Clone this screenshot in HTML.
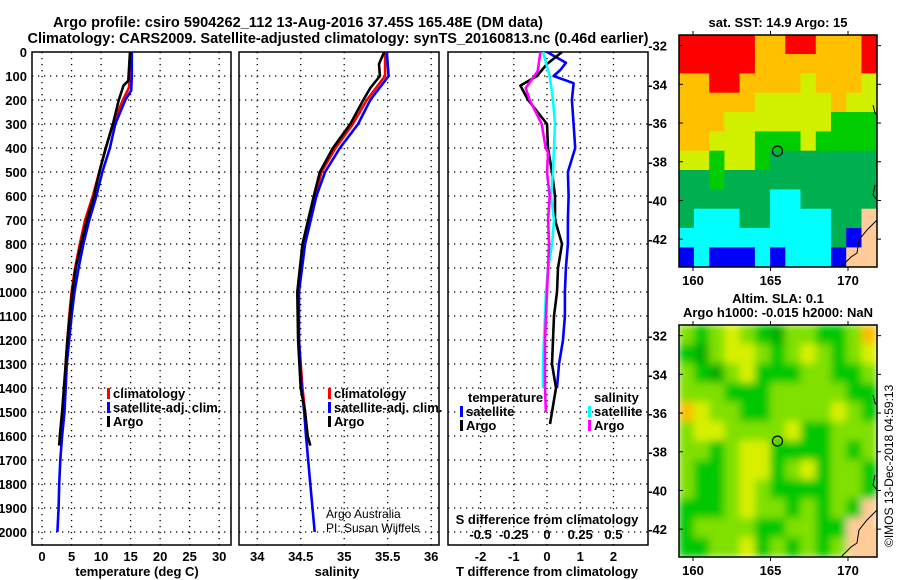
<!DOCTYPE html>
<html><head><meta charset="utf-8">
<style>
html,body{margin:0;padding:0;background:#fff;}
svg{display:block;font-family:"Liberation Sans",sans-serif;}
.b{font-weight:bold;font-size:13px;fill:#000;}
.t{font-weight:bold;font-size:14.5px;fill:#000;}
</style></head>
<body>
<svg id="fig" width="900" height="580" viewBox="0 0 900 580" xmlns="http://www.w3.org/2000/svg">
<text class="t" x="298" y="27" text-anchor="middle" textLength="490">Argo profile: csiro 5904262_112 13-Aug-2016 37.45S 165.48E (DM data)</text>
<text class="t" x="338" y="43" text-anchor="middle" textLength="621">Climatology: CARS2009. Satellite-adjusted climatology: synTS_20160813.nc (0.46d earlier)</text>
<g id="panels"></g>
<g id="maps"></g>
</svg>
<script>
// ---- profile data (depth in m) ----
const tClimDepth = [0,100,150,200,300,400,500,600,700,800,900,1000,1100,1200,1300,1400,1500];
const tClim      = [15,15,14.7,13.7,12.0,10.8,9.7,8.6,7.3,6.4,5.6,5.0,4.6,4.3,4.0,3.8,3.6];
const tSatDepth  = [0,100,160,200,300,400,500,600,700,800,900,1000,1100,1200,1300,1400,1500,1600,1700,1800,1900,2000];
const tSat       = [15.2,15.2,15.1,14.1,12.4,11.5,10.2,9.2,8.0,7.0,6.2,5.5,5.0,4.6,4.2,4.0,3.8,3.4,3.1,2.9,2.8,2.6];
const tArgoDepth = [0,120,140,200,300,400,500,600,700,800,900,1000,1100,1200,1300,1400,1500,1600,1640];
const tArgo      = [14.9,14.6,13.8,13.0,12.0,10.8,9.7,8.8,7.6,6.6,5.7,5.1,4.7,4.3,4.0,3.7,3.4,3.0,2.9];

const sClimDepth = [0,100,200,300,400,500,600,800,1000,1200,1400,1500];
const sClim      = [35.47,35.47,35.26,35.10,34.90,34.74,34.66,34.54,34.47,34.48,34.52,34.55];
const sSatDepth  = [0,100,200,300,400,500,600,800,1000,1200,1400,1500,1600,1800,2000];
const sSat       = [35.49,35.51,35.30,35.16,34.95,34.78,34.68,34.55,34.48,34.48,34.51,34.54,34.56,34.61,34.66];
const sArgoDepth = [0,50,100,150,200,300,400,500,600,800,1000,1200,1400,1500,1600,1640];
const sArgo      = [35.46,35.40,35.41,35.30,35.22,35.07,34.87,34.72,34.65,34.52,34.46,34.47,34.50,34.55,34.58,34.61];

const dTSatDepth = [0,45,75,100,130,200,300,400,500,600,700,800,900,1000,1100,1200,1300,1400];
const dTSat      = [0,0.57,0.4,0.2,0.8,0.75,0.8,0.85,0.63,0.65,0.63,0.63,0.57,0.54,0.54,0.48,0.36,0.3];
const dTArgoDepth= [0,50,100,140,200,300,400,500,600,700,800,900,1000,1100,1200,1300,1400,1500,1550];
const dTArgo     = [0.45,0,-0.3,-0.8,-0.57,0,0.03,0.15,0.24,0.24,0.45,0.33,0.3,0.21,0.18,0.15,0.27,0.15,0.09];
const dSSatDepth = [0,100,200,300,400,500,600,700,800,900,1000,1100,1200,1300,1400];
const dSSat      = [-0.03,0.02,0.045,0.06,0.053,0.045,0.03,0.053,0.038,0.008,-0.008,-0.015,-0.023,-0.03,-0.03];
const dSArgoDepth= [0,80,150,200,300,400,420,500,600,700,800,900,1000,1200,1400,1500];
const dSArgo     = [-0.05,-0.07,-0.16,-0.13,-0.04,-0.01,0.008,0,0.02,0.008,0.015,0.008,0,-0.015,-0.015,-0.008];

const depthTicks = [0,100,200,300,400,500,600,700,800,900,1000,1100,1200,1300,1400,1500,1600,1700,1800,1900,2000];
const tTicks = [0,5,10,15,20,25,30];
const sTicks = [34,34.5,35,35.5,36];
const sTickLabels = ["34","34.5","35","35.5","36"];
const dTTicks = [-2,-1,0,1,2];
const dSTicks = [-0.5,-0.25,0,0.25,0.5];
const dSTickLabels = ["-0.5","-0.25","0","0.25","0.5"];

// ---- map data ----
const sstPalette = {R:"#ff0000",O:"#ffc000",Y:"#d0f000",G:"#00cc00",D:"#00b050",C:"#00ffff",B:"#0000ff",S:"#ffcc99"};
const sstRows = [
 "RRRRROORROOOR",
 "RRRRROOOOOOOR",
 "OORROOOOYOOOY",
 "OOOOOYYYYYOYY",
 "OOOYYYYYYYGGG",
 "OOYYYGGGYGGGG",
 "YYGYYGDDDDDDD",
 "DDGDDDDDDDDDD",
 "DDDDDDCCDDDDD",
 "DCCCDDCCCCDDS",
 "CCCCCCCCCCDBS",
 "BCBBBCBCCCBSS"];
const slaPalette = {L:"#80e000",G:"#00c800",D:"#00b000",Y:"#d8f000",O:"#f8c000",S:"#ffcc99"};
const slaRows = [
 "LGLYLGDLLGGLO",
 "GDLYYLGLYLGLY",
 "LGDLYGGGLLGGL",
 "LLLGGGLLLLLGG",
 "OYLLGGLLLLYLG",
 "LYYLLLLYGGLLL",
 "LLGLYYGGGGLGL",
 "LGGLYYGLYGLLG",
 "LGGLYLGGGGLLG",
 "GGGLYLLGLGLGS",
 "GLLLLGGLLGGSS",
 "GGLLYGLGLGLSS"];
const latTicks = [-32,-34,-36,-38,-40,-42];
const lonTicks = [160,165,170];
const argoLon = 165.45, argoLat = -37.45;

const NS = "http://www.w3.org/2000/svg";
function mk(tag, attrs, parent){const e=document.createElementNS(NS,tag);for(const k in attrs)e.setAttribute(k,attrs[k]);parent.appendChild(e);return e;}

const yTop=52, pxPerM=0.24;
const yD = d => yTop + d*pxPerM;
const panelBottom = 545;

const panels = document.getElementById('panels');
const P = [
 {x0:32,x1:231,v0:-1.7,v1:32.0,name:'temperature-panel'},
 {x0:239,x1:439,v0:33.79,v1:36.09,name:'salinity-panel'},
 {x0:448,x1:648,v0:-2.98,v1:3.04,name:'difference-panel'}
];
P.forEach(p=>{p.sx=v=>p.x0+(v-p.v0)/(p.v1-p.v0)*(p.x1-p.x0);});
const sx3s = v => P[2].sx(v*4);

function grid(p, xs, g){
  depthTicks.slice(1).forEach(d=>{
    const l=mk('line',{x1:p.x0,x2:p.x1,y1:yD(d),y2:yD(d),stroke:'#000','stroke-width':1.3,'stroke-dasharray':'1.3 4.7'},g);
    
    
  });
  xs.forEach(v=>{
    const l=mk('line',{x1:p.sx(v),x2:p.sx(v),y1:yTop,y2:panelBottom,stroke:'#000','stroke-width':1.3,'stroke-dasharray':'1.3 4.7'},g);
    
    
  });
}
function line(xsFn, vals, depths, color, g, name){
  const pts = vals.map((v,i)=>xsFn(v).toFixed(1)+','+yD(depths[i]).toFixed(1)).join(' ');
  const pl = mk('polyline',{points:pts,fill:'none',stroke:color,'stroke-width':2.6,'stroke-linejoin':'round'},g);
  
  
}
function txt(s,x,y,attrs,g,name){
  const t=mk('text',Object.assign({x:x,y:y,class:'b'},attrs||{}),g);t.textContent=s;
  
  
  return t;
}
function legendEntry(x,y,color,label,g){
  const m=mk('rect',{x:x,y:y-10,width:3,height:11,fill:color},g);
  
  
  txt(label,x+6,y,{},g,'legend-entry');
}

P.forEach((p,i)=>{
  const g=mk('g',{},panels);
  
  
  if(i==0){grid(p,tTicks,g);}
  else if(i==1){grid(p,sTicks,g);}
  else {grid(p,dTTicks,g);}
  const fr=mk('rect',{x:p.x0,y:yTop,width:p.x1-p.x0,height:panelBottom-yTop,fill:'none',stroke:'#000','stroke-width':1.5},g);
  
  
  p.g=g;
});

const g1=P[0].g;
depthTicks.forEach(d=>txt(String(d),27,yD(d)+5,{'text-anchor':'end'},g1,'depth-tick-label'));
tTicks.forEach(v=>txt(String(v),P[0].sx(v),561,{'text-anchor':'middle'},g1,'temperature-tick-label'));
txt('temperature (deg C)',137,576,{'text-anchor':'middle'},g1,'x-axis-title');
line(P[0].sx,tClim,tClimDepth,'#ff0000',g1,'temperature-climatology-line');
line(P[0].sx,tSat,tSatDepth,'#0000ff',g1,'temperature-satellite-line');
line(P[0].sx,tArgo,tArgoDepth,'#000000',g1,'temperature-argo-line');
legendEntry(107,398,'#ff0000','climatology',g1);
legendEntry(107,412,'#0000ff','satellite-adj. clim.',g1);
legendEntry(107,426,'#000000','Argo',g1);

const g2=P[1].g;
sTicks.forEach((v,i)=>txt(sTickLabels[i],P[1].sx(v),561,{'text-anchor':'middle'},g2,'salinity-tick-label'));
txt('salinity',337,576,{'text-anchor':'middle'},g2,'x-axis-title');
line(P[1].sx,sClim,sClimDepth,'#ff0000',g2,'salinity-climatology-line');
line(P[1].sx,sSat,sSatDepth,'#0000ff',g2,'salinity-satellite-line');
line(P[1].sx,sArgo,sArgoDepth,'#000000',g2,'salinity-argo-line');
legendEntry(328,398,'#ff0000','climatology',g2);
legendEntry(328,412,'#0000ff','satellite-adj. clim.',g2);
legendEntry(328,426,'#000000','Argo',g2);
txt('Argo Australia',326,518,{style:'font-weight:normal;font-size:12px'},g2,'credit-text');
txt('PI: Susan Wijffels',326,532,{style:'font-weight:normal;font-size:12px'},g2,'credit-text');

const g3=P[2].g;
dTTicks.forEach(v=>txt(String(v),P[2].sx(v),561,{'text-anchor':'middle'},g3,'t-diff-tick-label'));
txt('T difference from climatology',547,576,{'text-anchor':'middle'},g3,'x-axis-title');
txt('S difference from climatology',547,524,{'text-anchor':'middle'},g3,'s-axis-title');
dSTicks.forEach((v,i)=>txt(dSTickLabels[i],sx3s(v),539,{'text-anchor':'middle'},g3,'s-diff-tick-label'));
line(P[2].sx,dTSat,dTSatDepth,'#0000ff',g3,'t-diff-satellite-line');
line(P[2].sx,dTArgo,dTArgoDepth,'#000000',g3,'t-diff-argo-line');
line(sx3s,dSSat,dSSatDepth,'#00ffff',g3,'s-diff-satellite-line');
line(sx3s,dSArgo,dSArgoDepth,'#ff00ff',g3,'s-diff-argo-line');
txt('temperature',468,402,{},g3,'legend-title');
legendEntry(460,416,'#0000ff','satellite',g3);
legendEntry(460,430,'#000000','Argo',g3);
txt('salinity',594,402,{},g3,'legend-title');
legendEntry(588,416,'#00ffff','satellite',g3);
legendEntry(588,430,'#ff00ff','Argo',g3);

const maps=document.getElementById('maps');
const defs=mk('defs',{},maps);
const f=mk('filter',{id:'blur',x:'0',y:'0',width:'1',height:'1'},defs);
mk('feGaussianBlur',{stdDeviation:'4',edgeMode:'duplicate'},f);
const clip1=mk('clipPath',{id:'c1'},defs); mk('rect',{x:679,y:35,width:198,height:232},clip1);
const clip2=mk('clipPath',{id:'c2'},defs); mk('rect',{x:679,y:325,width:198,height:232},clip2);

function drawMap(y0, latTop, rows, pal, clipId, blur, name){
  const x0=679,x1=877,y1=y0+232;
  const lx = lon => 693+(lon-160)*15.5;
  const ly = lat => y0 + (latTop-lat)*19.35;
  const g=mk('g',{},maps);
  
  
  const cg=mk('g',{'clip-path':'url(#'+clipId+')'},g);
  const inner=mk('g',blur?{filter:'url(#blur)'}:{},cg);
  const cw=(x1-x0)/13, ch=(y1-y0)/12;
  rows.forEach((r,ri)=>{
    for(let ci=0;ci<r.length;ci++){
      const c=mk('rect',{x:(x0+ci*cw-0.3).toFixed(1),y:(y0+ri*ch-0.3).toFixed(1),width:(cw+0.6).toFixed(1),height:(ch+0.6).toFixed(1),fill:pal[r[ci]]},inner);
      
      
    }
  });
  const land=mk('path',{d:`M${x1},${y0+200} L${x1-8},${y0+210} L${x1-14},${y0+222} L${x1-22},${y0+228} L${x1-30},${y1} L${x1},${y1} Z`,fill:'#ffcc99'},cg);
  
  
  const coast=mk('path',{d:`M${x1},${y0+185} L${x1-10},${y0+195} L${x1-18},${y0+205} L${x1-20},${y0+218} L${x1-26},${y0+222} L${x1-36},${y1} M${x1-4},${y0+70} L${x1-2},${y0+78} L${x1},${y0+80} M${x1-2},${y0+150} L${x1-4},${y0+160} L${x1},${y0+165}`,fill:'none',stroke:'#000','stroke-width':1},cg);
  
  
  const fr=mk('rect',{x:x0,y:y0,width:x1-x0,height:y1-y0,fill:'none',stroke:'#000','stroke-width':1.5},g);
  
  
  latTicks.forEach(l=>{
    txt(String(l),667,ly(l)+5,{'text-anchor':'end'},g,'latitude-tick-label');
    mk('line',{x1:x0,x2:x0+4,y1:ly(l),y2:ly(l),stroke:'#000'},g);
    mk('line',{x1:x1,x2:x1+4,y1:ly(l),y2:ly(l),stroke:'#000'},g);
  });
  lonTicks.forEach(l=>{
    txt(String(l),lx(l),y1+18,{'text-anchor':'middle'},g,'longitude-tick-label');
    mk('line',{x1:lx(l),x2:lx(l),y1:y0,y2:y0-4,stroke:'#000'},g);
    mk('line',{x1:lx(l),x2:lx(l),y1:y1,y2:y1+4,stroke:'#000'},g);
  });
  const m=mk('circle',{cx:lx(argoLon),cy:ly(argoLat),r:5,fill:'none',stroke:'#000','stroke-width':1.2},g);
  
  
  return g;
}
const m1=drawMap(35,-31.45,sstRows,sstPalette,'c1',false,'sst-map');
txt('sat. SST: 14.9 Argo: 15',778,27,{'text-anchor':'middle'},m1,'sst-map-title');
const m2=drawMap(325,-31.45,slaRows,slaPalette,'c2',true,'sla-map');
txt('Altim. SLA: 0.1',778,303,{'text-anchor':'middle'},m2,'sla-map-title');
txt('Argo h1000: -0.015 h2000: NaN',778,317,{'text-anchor':'middle'},m2,'sla-map-subtitle');
txt('©IMOS 13-Dec-2018 04:59:13',0,0,{transform:'translate(893,547) rotate(-90)',style:'font-weight:normal;font-size:12px'},m2,'timestamp-credit');
</script>
</body></html>
